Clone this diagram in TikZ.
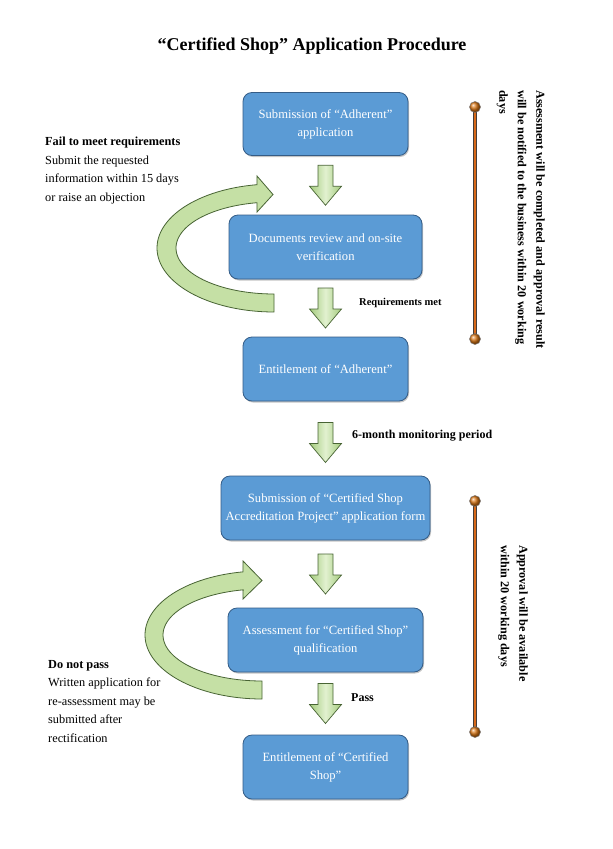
\documentclass[tikz,border=0pt]{standalone}
\usepackage{fontspec}
\setmainfont{Liberation Serif}
\usetikzlibrary{calc,shadows}
\definecolor{boxblue}{RGB}{91,155,213}
\definecolor{boxedge}{RGB}{52,92,134}
\definecolor{agreen}{RGB}{197,224,165}
\definecolor{agreenlight}{RGB}{226,241,208}
\definecolor{agreendark}{RGB}{163,203,124}
\definecolor{aedge}{RGB}{72,100,52}
\definecolor{barorange}{RGB}{214,104,24}
\definecolor{bardark}{RGB}{70,60,55}
\tikzset{
  stepbox/.style={rectangle, rounded corners=9pt, fill=boxblue, draw=boxedge,
    line width=0.8pt, text=white, align=center, inner sep=0pt,
    font=\fontsize{12.6}{18}\selectfont,
    drop shadow={shadow xshift=1pt, shadow yshift=-1.5pt, opacity=0.45}},
  sidetext/.style={align=left, inner sep=0pt, anchor=north west,
    font=\fontsize{12.3}{18.5}\selectfont},
  vtext/.style={align=left, inner sep=0pt, anchor=north west, rotate=-90,
    font=\bfseries\fontsize{12.2}{18.5}\selectfont},
  lbl/.style={inner sep=0pt, anchor=west, font=\bfseries\fontsize{12}{14}\selectfont},
  curvedarr/.style={fill=agreen, draw=aedge, line width=0.8pt},
  bar/.style={line width=4.2pt, draw=bardark},
  barin/.style={line width=2.8pt, draw=barorange},
  downarr/.pic={
    \path[left color=agreendark, right color=agreendark, middle color=agreenlight,
      draw=aedge, line width=0.7pt]
      (-7.5,-20) -- (7.5,-20) -- (7.5,1) -- (16,1) -- (0,20) -- (-16,1) -- (-7.5,1) -- cycle;
  }
}
\begin{document}
\begin{tikzpicture}[x=1pt,y=-1pt]
\fill[white] (0,0) rectangle (613,849);
\useasboundingbox (0,0) rectangle (613,849);

% title
\node[inner sep=0pt, font=\bfseries\fontsize{18}{20}\selectfont] (title) at (312,46)
  {“Certified Shop” Application Procedure};

% curved arrows (behind boxes)
\fill[curvedarr]
  plot[domain=90:261.6, samples=60] ({274+117*cos(\x)},{248+64*sin(\x)})
  -- (257,176) -- (273,194.5) -- (257,212)
  -- plot[domain=260:90, samples=60] ({274+98*cos(\x)},{248+46*sin(\x)})
  -- cycle;
\fill[curvedarr]
  plot[domain=90:260.65, samples=60] ({262+117*cos(\x)},{635+64*sin(\x)})
  -- (243,561) -- (262,580.5) -- (243,599)
  -- plot[domain=259:90, samples=60] ({262+99*cos(\x)},{635+46*sin(\x)})
  -- cycle;

% boxes
\node[stepbox, minimum width=165pt, minimum height=63pt] (b1) at (325.5,124)
  {Submission of “Adherent”\\application};
\node[stepbox, minimum width=193pt, minimum height=64pt] (b2) at (325.5,247)
  {Documents review and on-site\\verification};
\node[stepbox, minimum width=165pt, minimum height=64pt] (b3) at (325.5,369)
  {Entitlement of “Adherent”};
\node[stepbox, minimum width=209pt, minimum height=64pt] (b4) at (325.5,508)
  {Submission of “Certified Shop\\Accreditation Project” application form};
\node[stepbox, minimum width=195pt, minimum height=64pt] (b5) at (325.5,640)
  {Assessment for “Certified Shop”\\qualification};
\node[stepbox, minimum width=165pt, minimum height=64pt] (b6) at (325.5,767)
  {Entitlement of “Certified\\Shop”};

% down arrows between boxes
\pic at ($(b1.south)!0.5!(b2.north)$) {downarr};
\pic at ($(b2.south)!0.5!(b3.north)$) {downarr};
\pic at ($(b3.south)!0.5!(b4.north)+(0,4)$) {downarr};
\pic at ($(b4.south)!0.5!(b5.north)$) {downarr};
\pic at ($(b5.south)!0.5!(b6.north)$) {downarr};

% arrow labels
\node[lbl, font=\bfseries\fontsize{10.5}{12}\selectfont] (l1) at (359,303) {Requirements met};
\node[lbl] (l2) at (352,436) {6-month monitoring period};
\node[lbl] (l3) at (351,698) {Pass};

% side texts
\node[sidetext] (s1) at (45,137)
  {\textbf{Fail to meet requirements}\\Submit the requested\\information within 15 days\\or raise an objection};
\node[sidetext] (s2) at (48,660)
  {\textbf{Do not pass}\\Written application for\\re-assessment may be\\submitted after\\rectification};

% timeline bars
\coordinate (t1) at (475,107);
\coordinate (u1) at (475,339);
\coordinate (t2) at (475,501);
\coordinate (u2) at (475,732);
\draw[bar] (t1) -- (u1);
\draw[barin] (t1) -- (u1);
\draw[bar] (t2) -- (u2);
\draw[barin] (t2) -- (u2);
\foreach \p in {t1,u1,t2,u2}{
  \shade[ball color=barorange!90!yellow] (\p) circle[radius=5.5pt];
  \draw[bardark!70, line width=0.5pt] (\p) circle[radius=5.5pt];
}

% vertical texts
\node[vtext] (v1) at (545,90)
  {Assessment will be completed and approval result\\will be notified to the business within 20 working\\days};
\node[vtext] (v2) at (528,545)
  {Approval will be available\\within 20 working days};
\end{tikzpicture}
\end{document}
